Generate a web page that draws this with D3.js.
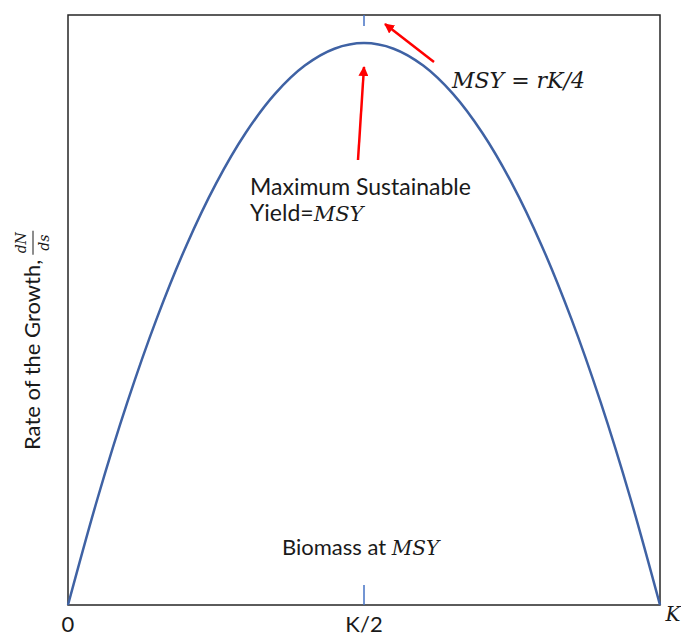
<!DOCTYPE html>
<html>
<head>
    <script src="https://cdnjs.cloudflare.com/ajax/libs/d3/7.8.5/d3.min.js"></script>
    <style>
        body { margin: 0; background: #fff; }
        .lbl { font-family: Lato, sans-serif; font-size: 22px; fill: #1a1a1a; }
        .math { font-family: "DejaVu Serif", serif; font-style: italic; font-size: 20px; fill: #1a1a1a; }
        .up { font-style: normal; }
    </style>
</head>
<body>
    <svg width="681" height="642"></svg>
    <script>
        // Biomass as fraction of K, and growth rate as fraction of MSY
        const biomass = [0, 0.05, 0.1, 0.15, 0.2, 0.25, 0.3, 0.35, 0.4, 0.45, 0.5,
                         0.55, 0.6, 0.65, 0.7, 0.75, 0.8, 0.85, 0.9, 0.95, 1];
        const growth = [0, 0.19, 0.36, 0.51, 0.64, 0.75, 0.84, 0.91, 0.96, 0.99, 1,
                        0.99, 0.96, 0.91, 0.84, 0.75, 0.64, 0.51, 0.36, 0.19, 0];
        const xTicks = [0, 0.5, 1];
        const xTickLabels = ["0", "K/2", "K"];

        const svg = d3.select("svg");
        const mLeft = 68, mRight = 660, mTop = 15, mBottom = 605;

        const x = d3.scaleLinear().domain([0, 1]).range([mLeft, mRight]);
        const y = d3.scaleLinear().domain([0, 1.05]).range([mBottom, mTop]);

        // frame
        svg.append("rect")
            .attr("x", mLeft).attr("y", mTop)
            .attr("width", mRight - mLeft).attr("height", mBottom - mTop)
            .attr("fill", "none").attr("stroke", "#262626").attr("stroke-width", 1.5);

        // K/2 marks
        svg.append("line")
            .attr("x1", x(0.5)).attr("x2", x(0.5))
            .attr("y1", mTop).attr("y2", mTop + 11)
            .attr("stroke", "#4472c4").attr("stroke-width", 1.5);
        svg.append("line")
            .attr("x1", x(0.5)).attr("x2", x(0.5))
            .attr("y1", mBottom - 20).attr("y2", mBottom)
            .attr("stroke", "#4472c4").attr("stroke-width", 1.5);

        // curve
        const pts = biomass.map((b, i) => [b, growth[i]]);
        svg.append("path")
            .datum(pts)
            .attr("fill", "none")
            .attr("stroke", "#3f62a4")
            .attr("stroke-width", 2.5)
            .attr("d", d3.line().x(d => x(d[0])).y(d => y(d[1])).curve(d3.curveCatmullRom));

        // x tick labels
        xTicks.forEach((t, i) => {
            const isK = i === 2;
            svg.append("text")
                .attr("class", isK ? "math" : "lbl")
                .attr("x", isK ? x(t) + 13 : x(t))
                .attr("y", isK ? 621 : 632)
                .attr("text-anchor", "middle")
                .text(xTickLabels[i]);
        });

        // arrows
        const defs = svg.append("defs");
        defs.append("marker")
            .attr("id", "arr").attr("viewBox", "0 0 10 10")
            .attr("refX", 9).attr("refY", 5)
            .attr("markerWidth", 4).attr("markerHeight", 4)
            .attr("orient", "auto")
            .append("path").attr("d", "M0,0 L10,5 L0,10 Z").attr("fill", "#ff0000");

        svg.append("line")
            .attr("x1", 358).attr("y1", 160).attr("x2", 364).attr("y2", 67)
            .attr("stroke", "#ff0000").attr("stroke-width", 2.5).attr("marker-end", "url(#arr)");
        svg.append("line")
            .attr("x1", 434).attr("y1", 62).attr("x2", 385).attr("y2", 24)
            .attr("stroke", "#ff0000").attr("stroke-width", 2.5).attr("marker-end", "url(#arr)");

        // annotations
        const msy = svg.append("text").attr("class", "math").attr("x", 452).attr("y", 88)
            .style("font-size", "22px");
        msy.append("tspan").text("MSY");
        msy.append("tspan").attr("class", "up").attr("dx", 7).text("=");
        msy.append("tspan").attr("dx", 7).text("rK/4");

        svg.append("text").attr("class", "lbl").attr("x", 250).attr("y", 195)
            .style("font-size", "23px").text("Maximum Sustainable");
        const yl = svg.append("text").attr("class", "lbl").attr("x", 250).attr("y", 221)
            .style("font-size", "23px");
        yl.append("tspan").text("Yield=");
        yl.append("tspan").attr("class", "math").style("font-size", "21px").text("MSY");

        const bm = svg.append("text").attr("class", "lbl").attr("x", 282).attr("y", 555);
        bm.append("tspan").text("Biomass at ");
        bm.append("tspan").attr("class", "math").text("MSY");

        // y axis label
        const g = svg.append("g").attr("transform", "translate(40,450) rotate(-90)");
        const yt = g.append("text").attr("class", "lbl").attr("x", 0).attr("y", 0)
            .text("Rate of the Growth,");
        const fx = yt.node().getComputedTextLength() + 17;
        g.append("text").attr("class", "math").style("font-size", "14px")
            .attr("x", fx).attr("y", -14).attr("text-anchor", "middle").text("dN");
        g.append("line").attr("x1", fx - 12).attr("x2", fx + 12).attr("y1", -7).attr("y2", -7)
            .attr("stroke", "#1a1a1a").attr("stroke-width", 1);
        g.append("text").attr("class", "math").style("font-size", "14px")
            .attr("x", fx).attr("y", 9).attr("text-anchor", "middle").text("ds");
    </script>
</body>
</html>
